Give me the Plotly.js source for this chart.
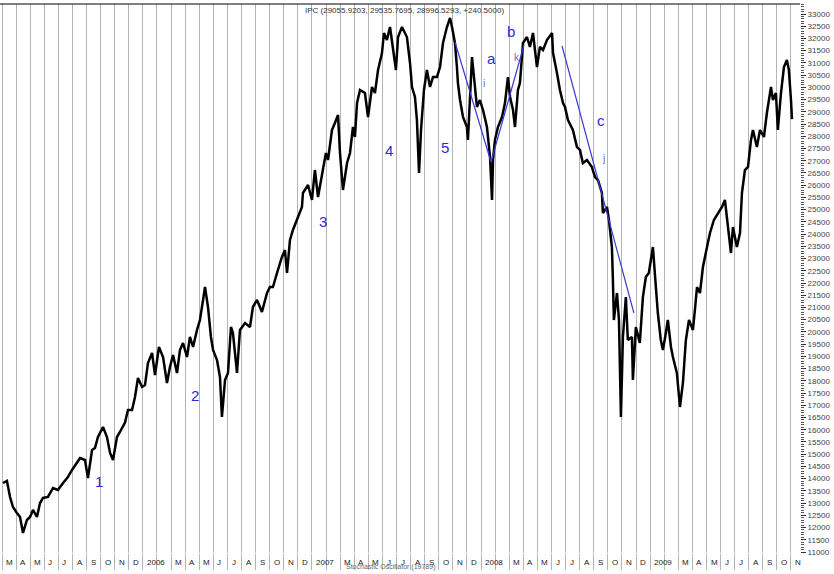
<!DOCTYPE html>
<html><head><meta charset="utf-8">
<script src="https://cdn.plot.ly/plotly-3.0.1.min.js"></script>
<style>html,body{margin:0;padding:0;background:#fff}#chart{width:834px;height:574px}</style>
</head><body><div id="chart"></div>
<script>
// x: months since 1 Mar 2005 (trading-day axis), y: IPC index level
const monthIndex = [
0.07,0.35,0.57,0.78,1.06,1.28,1.49,1.77,1.99,2.20,2.48,2.70,2.91,3.26,3.62,3.97,4.33,4.68,4.97,5.32,5.54,5.89,6.03,6.10,6.39,6.60,6.81,7.17,7.45,7.67,7.88,8.16,8.37,8.73,8.94,9.23,9.44,9.65,9.94,10.15,10.36,10.65,10.86,11.14,11.43,11.71,11.92,12.14,12.42,12.63,12.85,13.13,13.34,13.56,13.84,14.05,14.27,14.41,14.62,14.83,14.98,15.26,15.47,15.61,15.83,16.04,16.25,16.39,16.68,16.89,17.25,17.60,17.81,18.10,18.45,18.81,19.02,
19.23,19.52,19.87,20.08,20.23,20.44,20.65,21.01,21.29,21.36,21.72,22.00,22.21,22.43,22.71,22.99,23.14,23.42,23.63,23.85,23.99,24.20,24.49,24.70,24.91,25.05,25.20,25.41,25.76,25.98,26.26,26.47,26.69,26.97,27.11,27.32,27.54,27.75,27.96,28.11,28.39,28.74,28.96,29.10,29.31,29.45,29.60,29.74,29.95,30.16,30.38,30.59,30.87,31.09,31.30,31.58,31.80,31.94,32.15,32.29,32.36,
32.51,32.65,32.72,33.00,33.07,33.36,33.43,33.57,33.71,33.92,34.14,34.42,34.50,34.64,34.78,34.85,34.99,35.20,35.49,35.70,35.91,36.06,36.27,36.41,36.62,36.76,36.98,37.26,37.47,37.69,37.97,38.18,38.40,38.68,39.04,39.11,39.39,39.60,
39.82,39.96,40.17,40.52,40.81,41.02,41.23,41.52,41.87,42.09,42.30,42.58,42.65,42.94,43.08,43.29,43.36,43.43,43.65,43.79,43.93,44.07,44.28,44.42,44.71,44.78,44.99,45.27,45.49,45.70,45.91,46.20,46.41,46.55,46.76,46.91,47.12,47.26,47.48,47.62,47.90,48.12,48.33,48.54,48.76,49.04,49.18,49.33,49.54,49.75,50.04,50.25,50.53,50.82,51.10,51.31,51.53,51.74,51.88,52.16,52.38,52.52,52.73,52.95,53.16,53.30,53.58,53.80,54.08,54.29,54.58,54.72,54.93,55.07,55.29,55.50,55.71,55.85,56.00,56.07];
const ipcClose = [
13822,13904,13250,12841,12596,12432,11778,12309,12432,12718,12432,13004,13209,13250,13618,13536,13822,14068,14354,14640,14845,14763,14150,14027,15171,15253,15703,16112,15703,15049,14763,15703,15907,16296,16807,16807,17340,18115,17748,17830,18729,19138,18238,19383,18974,17911,18565,19056,18320,19260,19547,18974,19792,19383,20078,20487,21305,21837,21019,19792,19260,18852,18157,16521,18034,18320,20201,19956,18320,20078,20365,20201,21019,21305,20814,21591,21837,
21837,22409,23063,23350,22409,23758,24167,24699,25108,25680,26007,25394,26621,25517,26498,27316,27030,28256,28543,28870,27316,25803,26907,27316,28379,27970,29360,29892,29769,28788,30015,29769,30710,31405,32223,31936,32468,31650,30710,32059,32468,32059,30996,30015,29606,28665,26498,28256,29892,30710,30015,30423,30423,30832,31814,32468,32836,32468,31814,30832,30178,
29483,29074,28788,28379,27847,31241,30832,29892,29197,29483,29074,28379,27847,27152,25394,27030,27847,28379,28788,29360,30423,29606,29074,28379,29892,30178,31814,32059,31650,32223,30832,31650,31528,31936,32223,31405,30587,29892,
29360,29197,28665,28256,27561,27439,26907,27030,26743,26334,26212,25680,24862,25108,24576,23472,22123,20487,21591,20487,16521,19792,21428,19669,19792,18034,20201,19547,21428,22245,22409,23472,21837,20773,19669,19260,19956,20487,19383,18974,18320,16930,17911,19669,20487,20078,20896,21837,21591,22654,23472,24045,24576,24862,25108,25394,24290,23227,24290,23472,24045,25680,26621,26743,27847,28256,27561,28256,27970,28951,30015,29483,29769,28256,29769,30832,31119,30710,29483,28700];

const monthTickLabels = ['M','A','M','J','J','A','S','O','N','D','2006','','M','A','M','J','J','A','S','O','N','D','2007','','M','A','M','J','J','A','S','O','N','D','2008','','M','A','M','J','J','A','S','O','N','D','2009','','M','A','M','J','J','A','S','O','N'];

// Elliott wave trend lines (x in months, y in index points)
const waveLine1X = [32.15, 34.71], waveLine1Y = [31855, 26948];
const waveLine2X = [34.71, 37.05], waveLine2Y = [26948, 31732];
const waveLine3X = [39.75, 44.85], waveLine3Y = [31691, 20773];

const waveLabels = ['1','2','3','4','5','a','b','c'];
const waveLabelX = [6.88, 13.70, 22.78, 27.47, 31.44, 34.71, 36.12, 42.51];
const waveLabelY = [13863, 17380, 24495, 27438, 27561, 31200, 32304, 28665];
const subLabels = ['i','k','j'];
const subLabelX = [34.21, 36.55, 42.72];
const subLabelY = [30178, 31241, 27111];

const titleText = 'IPC (29055.9203, 29535.7695, 28996.5293, +240.5000)';
const footText = 'Stochastic Oscillator (19789)';

const FONT = 'Liberation Sans, Arial, sans-serif';
const BLUE = '#2b2bd0';

const traces = [
  {x: monthIndex, y: ipcClose, type: 'scatter', mode: 'lines', line: {color: '#000', width: 2.5}, hoverinfo: 'skip'},
  {x: waveLine1X, y: waveLine1Y, mode: 'lines', line: {color: '#3a3ad8', width: 1.2}},
  {x: waveLine2X, y: waveLine2Y, mode: 'lines', line: {color: '#3a3ad8', width: 1.2}},
  {x: waveLine3X, y: waveLine3Y, mode: 'lines', line: {color: '#3a3ad8', width: 1.2}}
];

const annotations = [];
monthTickLabels.forEach((t, i) => {
  if (!t) return;
  annotations.push({x: i + 0.15, y: 0, xref: 'x', yref: 'paper', text: t, showarrow: false,
    xanchor: 'left', yanchor: 'middle', yshift: -9, font: {family: FONT, size: 8, color: '#222'}});
});
waveLabels.forEach((t, i) => annotations.push({x: waveLabelX[i], y: waveLabelY[i], text: t, showarrow: false,
  xanchor: 'center', yanchor: 'middle', font: {family: FONT, size: 15, color: BLUE}}));
subLabels.forEach((t, i) => annotations.push({x: subLabelX[i], y: subLabelY[i], text: t, showarrow: false,
  xanchor: 'center', yanchor: 'middle', font: {family: FONT, size: 10, color: '#6a6ae0'}}));
annotations.push({x: 0.379, y: 1, xref: 'paper', yref: 'paper', text: titleText, showarrow: false,
  xanchor: 'left', yanchor: 'middle', yshift: -6, font: {family: FONT, size: 8, color: '#333'}});
annotations.push({x: 24.3, y: 0, xref: 'x', yref: 'paper', text: footText, showarrow: false,
  xanchor: 'left', yanchor: 'middle', yshift: -14, font: {family: FONT, size: 7, color: '#666'}});

const layout = {
  width: 834, height: 574,
  margin: {l: 0, r: 34, t: 4, b: 21},
  paper_bgcolor: '#fff', plot_bgcolor: '#fff',
  showlegend: false,
  xaxis: {range: [-0.142, 56.64], tickmode: 'linear', tick0: 0, dtick: 1,
    showgrid: true, gridcolor: '#b4b4b4', gridwidth: 1,
    ticks: 'outside', ticklen: 16, tickcolor: '#b4b4b4', tickwidth: 1,
    showticklabels: false, zeroline: false, showline: false, fixedrange: true},
  yaxis: {side: 'right', range: [10959, 33409], tickmode: 'linear', tick0: 11000, dtick: 500,
    tickformat: 'd', showgrid: false, zeroline: false, showline: false,
    ticks: 'outside', ticklen: 5, tickcolor: '#333', tickwidth: 1,
    minor: {dtick: 100, ticks: 'outside', ticklen: 3, tickcolor: '#555', showgrid: false},
    tickfont: {family: FONT, size: 8, color: '#444'}, fixedrange: true},
  annotations: annotations,
  shapes: [{type: 'line', xref: 'paper', yref: 'paper', x0: 0, x1: 1, y0: 1, y1: 1,
    line: {color: '#000', width: 1}}]
};

Plotly.newPlot('chart', traces, layout, {displayModeBar: false, staticPlot: true});
</script>
</body></html>
